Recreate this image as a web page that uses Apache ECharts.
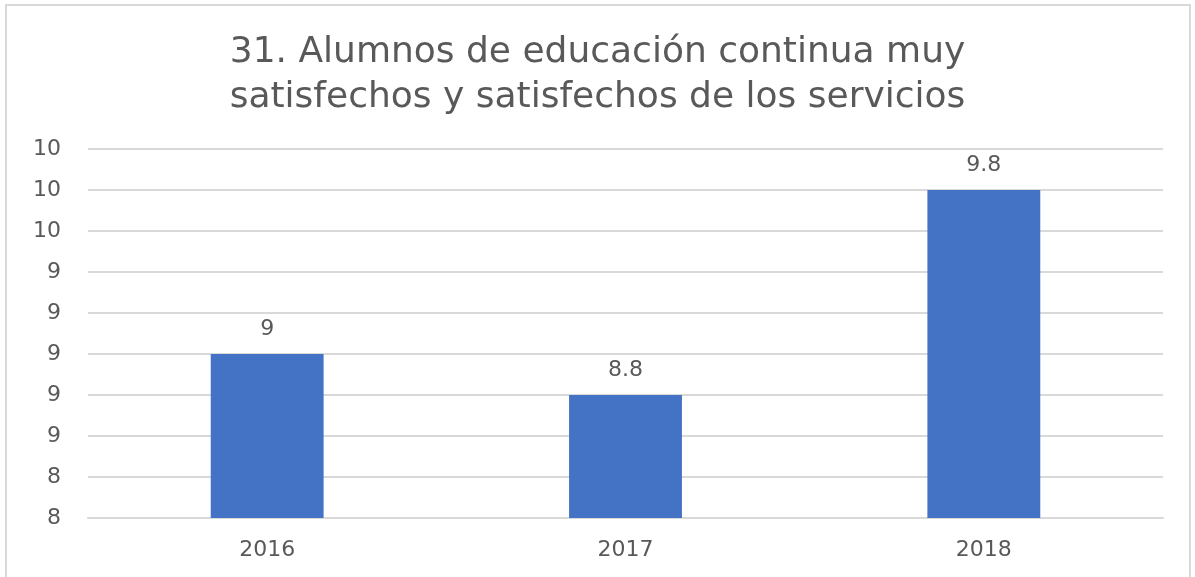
<!DOCTYPE html>
<html>
<head>
<meta charset="utf-8">
<script src="https://cdn.jsdelivr.net/npm/echarts@6/dist/echarts.min.js"></script>
<style>
  html, body { margin: 0; padding: 0; background: #fff; }
  #frame { position: absolute; left: 5px; top: 4px; width: 1186px; height: 580px; border: 2px solid #d9d9d9; box-sizing: border-box; }
  #main { position: absolute; left: 0; top: 0; width: 1195px; height: 577px; }
</style>
</head>
<body>
<div id="frame"></div>
<div id="main"></div>
<script>
// datos del gráfico
const titleLines = ['31. Alumnos de educación continua muy', 'satisfechos y satisfechos de los servicios']
const years = ['2016', '2017', '2018']
const values = [9, 8.8, 9.8]
const yMin = 8.2
const yMax = 10
const yStep = 0.2

const myChart = echarts.init(document.getElementById('main'))
const gray = '#595959'
const font = '"DejaVu Sans", "Open Sans", sans-serif'

myChart.setOption({
  title: {
    text: titleLines.join('\n'),
    left: 'center',
    top: 25,
    textStyle: {
      color: gray,
      fontSize: 36,
      fontWeight: 'normal',
      fontFamily: font,
      lineHeight: 45
    }
  },
  grid: {
    left: 88,
    right: 32,
    top: 149,
    bottom: 59
  },
  xAxis: {
    type: 'category',
    data: years,
    axisLine: { lineStyle: { color: '#d9d9d9', width: 2 } },
    axisTick: { show: false },
    axisLabel: { color: gray, fontSize: 22, fontFamily: font, margin: 21 }
  },
  yAxis: {
    type: 'value',
    min: yMin,
    max: yMax,
    interval: yStep,
    axisLine: { show: false },
    axisTick: { show: false },
    splitLine: { lineStyle: { color: '#d9d9d9', width: 2 } },
    axisLabel: {
      color: gray,
      fontSize: 22,
      fontFamily: font,
      margin: 27,
      formatter: v => String(Math.round(v))
    }
  },
  series: [{
    type: 'bar',
    data: values,
    barWidth: '31.5%',
    itemStyle: { color: '#4472c4' },
    label: {
      show: true,
      position: 'top',
      distance: 14,
      color: gray,
      fontSize: 22,
      fontFamily: font,
      formatter: p => String(p.value)
    }
  }],
  animation: false
})
</script>
</body>
</html>
